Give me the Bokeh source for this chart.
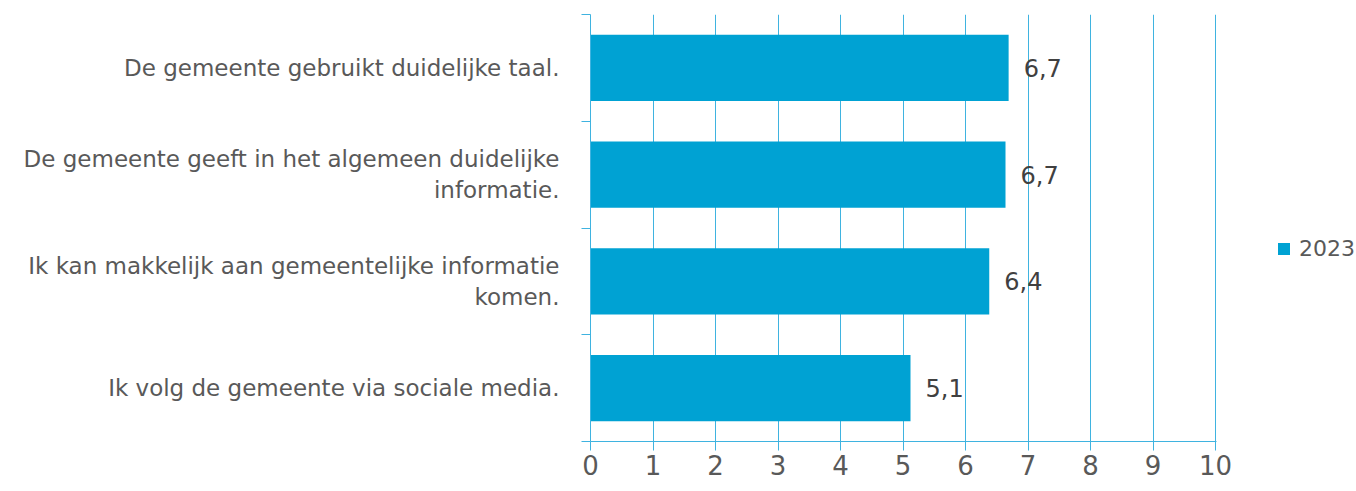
from bokeh.plotting import figure
from bokeh.models import (ColumnDataSource, FixedTicker, Legend, LegendItem, Range1d)
from bokeh.core.properties import value
from bokeh.embed import file_html
from bokeh.resources import INLINE

categories = [
    "De gemeente gebruikt duidelijke taal.",
    "De gemeente geeft in het algemeen duidelijke\ninformatie.",
    "Ik kan makkelijk aan gemeentelijke informatie\nkomen.",
    "Ik volg de gemeente via sociale media.",
]
values = [6.69, 6.64, 6.38, 5.12]
value_labels = ["6,7", "6,7", "6,4", "5,1"]
series_name = "2023"
x_ticks = [0, 1, 2, 3, 4, 5, 6, 7, 8, 9, 10]

BAR = "#00A2D3"
GRID = "#3FB3E0"
TXT = "#595959"
FONT = "DejaVu Sans"

n = len(categories)
pos = [n - i - 0.5 for i in range(n)]
bounds = [float(i) for i in range(n + 1)]

src = ColumnDataSource(dict(y=pos, v=values, lab=value_labels))

p = figure(frame_width=626, frame_height=427, x_range=Range1d(0, 10.016), y_range=Range1d(0, n),
           output_backend="svg", toolbar_location=None,
           min_border_left=590, min_border_right=140, min_border_top=14, min_border_bottom=40)
p.outline_line_color = None

r = p.hbar(y="y", right="v", left=0, height=0.62, source=src, fill_color=BAR, line_color=None)
p.text(x="v", y="y", text="lab", source=src, x_offset=15, text_baseline="middle",
       text_align="left", text_font_size="24px", text_color="#404040", text_font=value(FONT))

# x axis
p.xaxis.ticker = FixedTicker(ticks=x_ticks)
p.xaxis.axis_line_color = GRID
p.xaxis.major_tick_line_color = GRID
p.xaxis.major_tick_out = 9
p.xaxis.major_tick_in = 0
p.xaxis.minor_tick_line_color = None
p.xaxis.major_label_text_font = FONT
p.xaxis.major_label_text_font_size = "26px"
p.xaxis.major_label_text_color = TXT
p.xaxis.major_label_standoff = 4

p.xgrid.ticker = FixedTicker(ticks=x_ticks)
p.xgrid.grid_line_color = GRID
p.ygrid.visible = False

# y axis: labels at category centers, ticks at boundaries
p.yaxis.ticker = FixedTicker(ticks=pos, minor_ticks=bounds)
p.yaxis.major_label_overrides = {pp: c for pp, c in zip(pos, categories)}
p.yaxis.major_tick_line_color = None
p.yaxis.major_tick_out = 0
p.yaxis.major_tick_in = 0
p.yaxis.minor_tick_line_color = GRID
p.yaxis.minor_tick_out = 9
p.yaxis.minor_tick_in = 0
p.yaxis.axis_line_color = GRID
p.yaxis.major_label_standoff = 22
p.yaxis.major_label_text_font = FONT
p.yaxis.major_label_text_font_size = "23px"
p.yaxis.major_label_text_color = TXT

legend = Legend(items=[LegendItem(label=series_name, renderers=[r])],
                location=(60, 180), border_line_color=None, background_fill_alpha=0,
                label_text_font=FONT, label_text_font_size="22px", label_text_color=TXT,
                glyph_width=15, glyph_height=15, label_standoff=8, padding=0, margin=0)
p.add_layout(legend, "right")

open("out.html", "w").write(file_html(p, INLINE))
